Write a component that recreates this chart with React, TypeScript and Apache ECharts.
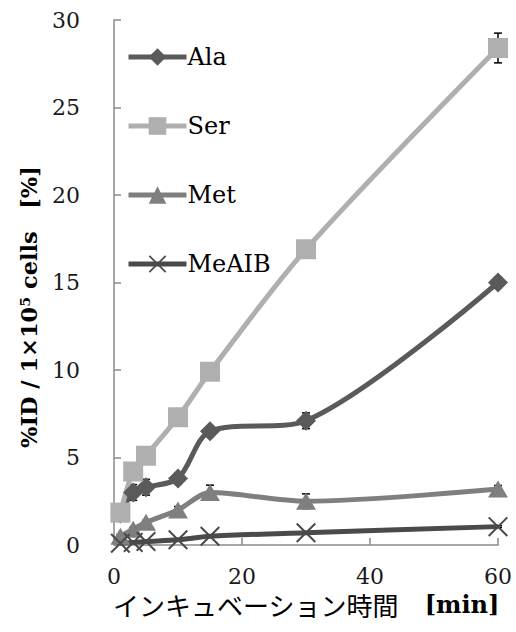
import React, { useEffect, useRef } from "react";
import * as echarts from "echarts";

const xValues = [1, 3, 5, 10, 15, 30, 60];
const seriesNames = ["Ala", "Ser", "Met", "MeAIB"];
const alaValues = [1.8, 3.0, 3.3, 3.8, 6.5, 7.1, 15.0];
const serValues = [1.85, 4.2, 5.1, 7.3, 9.9, 16.9, 28.4];
const metValues = [0.5, 0.9, 1.3, 2.0, 3.0, 2.5, 3.2];
const meaibValues = [0.1, 0.15, 0.2, 0.3, 0.5, 0.7, 1.05];
const alaErr = [0.2, 0.45, 0.45, 0.3, 0.3, 0.45, 0.3];
const serErr = [0.2, 0.3, 0.3, 0.3, 0.3, 0.3, 0.85];
const metErr = [0.1, 0.1, 0.1, 0.2, 0.42, 0.42, 0.2];
const meaibErr = [0.05, 0.05, 0.05, 0.05, 0.05, 0.05, 0.05];
const xTicks = { min: 0, max: 60, interval: 20 };
const yTicks = { min: 0, max: 30, interval: 5 };

const SERIF = "'DejaVu Serif', 'Noto Sans CJK JP', serif";
const crossPath =
  "path://M0,0.7L0.7,0L10,9.3L9.3,10Z M9.3,0L10,0.7L0.7,10L0,9.3Z";

export default function App() {
  const ref = useRef<HTMLDivElement>(null);
  useEffect(() => {
    if (!ref.current) return;
    const chart = echarts.init(ref.current, undefined, { renderer: "svg" });
    const pairs = (vals: number[]) => xValues.map((x, i) => [x, vals[i]]);
    const errData: number[][] = [];
    [
      [alaValues, alaErr],
      [serValues, serErr],
      [metValues, metErr],
      [meaibValues, meaibErr],
    ].forEach(([v, e]) => {
      xValues.forEach((x, i) => errData.push([x, v[i], e[i]]));
    });
    const lineSeries = (
      name: string,
      vals: number[],
      color: string,
      symbol: string,
      size: number | number[]
    ) => ({
      type: "line",
      name,
      data: pairs(vals),
      smooth: 0.3,
      symbol,
      symbolSize: size,
      z: 3,
      lineStyle: { color, width: 5 },
      itemStyle: { color },
    });
    chart.setOption({
      animation: false,
      grid: { left: 114, right: 18, top: 20, bottom: 87, containLabel: false },
      xAxis: {
        type: "value",
        min: xTicks.min,
        max: xTicks.max,
        interval: xTicks.interval,
        splitLine: { show: false },
        axisLine: { lineStyle: { color: "#8a8a8a", width: 1.5 } },
        axisTick: { inside: true, length: 7, lineStyle: { color: "#8a8a8a", width: 1.5 } },
        axisLabel: { margin: 20, fontSize: 22, fontFamily: SERIF, color: "#1a1a1a" },
        name: "{a|インキュベーション時間}　{b|[min]}",
        nameLocation: "middle",
        nameGap: 45,
        nameTextStyle: {
          fontSize: 26,
          fontFamily: SERIF,
          color: "#000",
          rich: {
            a: { fontSize: 26, fontFamily: "'Noto Sans CJK JP', sans-serif", color: "#000" },
            b: { fontSize: 24, fontFamily: SERIF, fontWeight: "bold", color: "#000" },
          },
        },
      },
      yAxis: {
        type: "value",
        min: yTicks.min,
        max: yTicks.max,
        interval: yTicks.interval,
        splitLine: { show: false },
        axisLine: { show: true, lineStyle: { color: "#8a8a8a", width: 1.5 } },
        axisTick: { show: true, inside: true, length: 7, lineStyle: { color: "#8a8a8a", width: 1.5 } },
        axisLabel: { margin: 34, fontSize: 22, fontFamily: SERIF, color: "#1a1a1a" },
      },
      legend: {
        data: seriesNames,
        orient: "vertical",
        left: 121,
        top: 40,
        itemWidth: 58,
        itemHeight: 22,
        itemGap: 45,
        lineStyle: { width: 5 },
        textStyle: { fontSize: 24, fontFamily: SERIF, color: "#000", padding: [0, 0, 0, -4] },
      },
      graphic: [
        {
          type: "text",
          x: 29,
          y: 307,
          rotation: Math.PI / 2,
          style: {
            text: "%ID / 1×10⁵ cells　[%]",
            fontSize: 22.5,
            fontWeight: "bold",
            fontFamily: SERIF,
            fill: "#000",
            align: "center",
            verticalAlign: "middle",
            textAlign: "center",
            textVerticalAlign: "middle",
          },
        },
      ],
      series: [
        {
          type: "custom",
          name: "err",
          z: 2,
          data: errData,
          encode: { x: 0, y: 1 },
          renderItem: (params: any, api: any) => {
            const x = api.value(0);
            const y = api.value(1);
            const e = api.value(2);
            const top = api.coord([x, y + e]);
            const bot = api.coord([x, y - e]);
            const st = { stroke: "#000", lineWidth: 1.5 };
            return {
              type: "group",
              children: [
                { type: "line", shape: { x1: top[0], y1: top[1], x2: bot[0], y2: bot[1] }, style: st },
                { type: "line", shape: { x1: top[0] - 4, y1: top[1], x2: top[0] + 4, y2: top[1] }, style: st },
                { type: "line", shape: { x1: bot[0] - 4, y1: bot[1], x2: bot[0] + 4, y2: bot[1] }, style: st },
              ],
            };
          },
        },
        lineSeries("Ala", alaValues, "#5a5a5a", "diamond", 20),
        lineSeries("Ser", serValues, "#afafaf", "rect", 20),
        lineSeries("Met", metValues, "#7f7f7f", "triangle", [20, 17]),
        lineSeries("MeAIB", meaibValues, "#4a4a4a", crossPath, 20),
      ],
    });
    return () => chart.dispose();
  }, []);
  return (
    <div
      ref={ref}
      style={{ position: "fixed", left: 0, top: 0, width: 516, height: 632, background: "#fff" }}
    />
  );
}
